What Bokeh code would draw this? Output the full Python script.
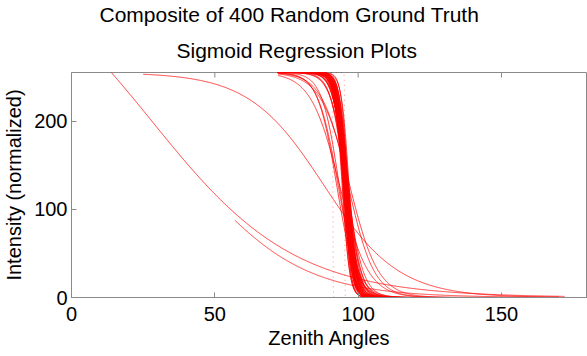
import numpy as np
from bokeh.plotting import figure
from bokeh.models import FixedTicker, Title, Range1d
from bokeh.embed import file_html
from bokeh.resources import INLINE

# ---- text ----
title_lines = ["Composite of 400 Random Ground Truth", "Sigmoid Regression Plots"]
x_label = "Zenith Angles"
y_label = "Intensity (normalized)"
x_ticks = [0, 50, 100, 150]
y_ticks = [0, 100, 200]

# ---- fitted sigmoid parameters ----
# dense bundle of steep fits (centre, scale)
bundle_center = [94.4, 94.6, 94.7, 94.9, 95.0, 95.0, 95.1, 95.2, 95.2, 95.3,
                 95.3, 95.4, 95.4, 95.5, 95.5, 95.6, 95.6, 95.7, 95.7, 95.8,
                 95.8, 95.9, 96.0, 96.0, 96.1, 96.2, 96.3, 96.4, 96.5, 96.6,
                 96.8, 95.1, 95.5, 95.9, 96.3, 94.8, 96.7, 95.3, 95.7, 96.1]
bundle_scale = [1.3, 1.2, 1.5, 1.4, 1.2, 1.7, 1.5, 1.3, 1.9, 1.6,
                2.0, 1.4, 1.8, 1.5, 2.1, 1.3, 1.7, 1.6, 2.2, 1.4,
                1.9, 1.5, 1.3, 1.8, 2.0, 1.6, 1.4, 2.3, 1.7, 1.5,
                1.3, 1.1, 1.2, 1.2, 1.1, 1.6, 1.9, 2.4, 2.6, 2.8]
bundle_start = 72
bundle_end = [150, 172, 150, 150, 160, 150, 150, 172, 150, 150,
              150, 160, 150, 150, 150, 150, 172, 150, 150, 150,
              150, 160, 150, 150, 150, 150, 150, 150, 172, 150,
              150, 150, 150, 150, 150, 150, 150, 160, 150, 150]

# individual outlying fits (amplitude, centre, scale, x-extent)
out_amp = [400, 255, 255, 255, 255, 255, 255, 255, 255]
out_center = [28.0, 88.0, 45.0, 92.5, 93.0, 93.4, 93.5, 96.5, 97.0]
out_scale = [25.0, 13.0, 18.5, 3.3, 3.5, 3.0, 5.0, 4.5, 5.0]
out_start = [13.5, 25.0, 57.0, 72.0, 72.0, 72.0, 72.0, 72.0, 72.0]
out_end = [172.0, 170.0, 170.0, 160.0, 160.0, 160.0, 165.0, 165.0, 165.0]

# near-step fits drawn as faint dotted verticals
step_center = [91.2, 95.3]
step_scale = [0.05, 0.05]

FONT = "Liberation Sans"
AXC = "#8a8a8a"
TICK_PX = 5
FRAME_H = 225


def sigmoid(x, amp, c, s):
    return amp / (1.0 + np.exp((x - c) / s))


p = figure(width=587, height=356, x_range=Range1d(0, 180), y_range=Range1d(0, 255),
           output_backend="svg", toolbar_location=None, title=None,
           min_border_left=68, min_border_right=0, min_border_top=72, min_border_bottom=59)
p.background_fill_color = "white"
p.border_fill_color = "white"
p.outline_line_color = AXC
p.outline_line_width = 1
p.xgrid.visible = False
p.ygrid.visible = False

for c, s, xe in zip(bundle_center, bundle_scale, bundle_end):
    xs = np.linspace(bundle_start, xe, 700)
    p.line(xs, sigmoid(xs, 255, c, s), line_color="#ff0000", line_width=1, line_alpha=0.75)

for a, c, s, x0, x1 in zip(out_amp, out_center, out_scale, out_start, out_end):
    xs = np.linspace(x0, x1, 700)
    p.line(xs, sigmoid(xs, a, c, s), line_color="#ff0000", line_width=1, line_alpha=0.75)

for c, s in zip(step_center, step_scale):
    xs = np.linspace(80, 110, 3001)
    p.line(xs, sigmoid(xs, 255, c, s), line_color="#ff0000", line_width=1,
           line_alpha=0.45, line_dash="1 4")

for ax, ticks, lab in ((p.xaxis[0], x_ticks, x_label), (p.yaxis[0], y_ticks, y_label)):
    ax.ticker = FixedTicker(ticks=ticks)
    ax.axis_line_color = AXC
    ax.major_tick_line_color = AXC
    ax.major_tick_in = TICK_PX
    ax.major_tick_out = 0
    ax.minor_tick_line_color = None
    ax.major_label_text_font = FONT
    ax.major_label_text_font_size = "20px"
    ax.major_label_text_color = "black"
    ax.axis_label = lab
    ax.axis_label_text_font = FONT
    ax.axis_label_text_font_size = "20px"
    ax.axis_label_text_font_style = "normal"
    ax.axis_label_text_color = "black"

p.xaxis[0].major_label_standoff = 9
p.xaxis[0].axis_label_standoff = 3
p.yaxis[0].major_label_standoff = 4
p.yaxis[0].axis_label_standoff = 6

# inward tick marks on the top edge of the box (MATLAB style)
y_top = p.y_range.end
tick_len = TICK_PX * (p.y_range.end - p.y_range.start) / FRAME_H
p.segment(x0=x_ticks[1:], y0=[y_top] * 3, x1=x_ticks[1:], y1=[y_top - tick_len] * 3,
          line_color=AXC, line_width=1)

# two-line title (second line nearest the frame is added first)
for txt, sb, off in ((title_lines[1], 21.5, 105), (title_lines[0], 0, 28)):
    p.add_layout(Title(text=txt, align="left", text_font=FONT, text_font_size="21px",
                       text_font_style="normal", text_color="black", standoff=sb,
                       offset=off), "above")

open("out.html", "w").write(file_html(p, INLINE))
